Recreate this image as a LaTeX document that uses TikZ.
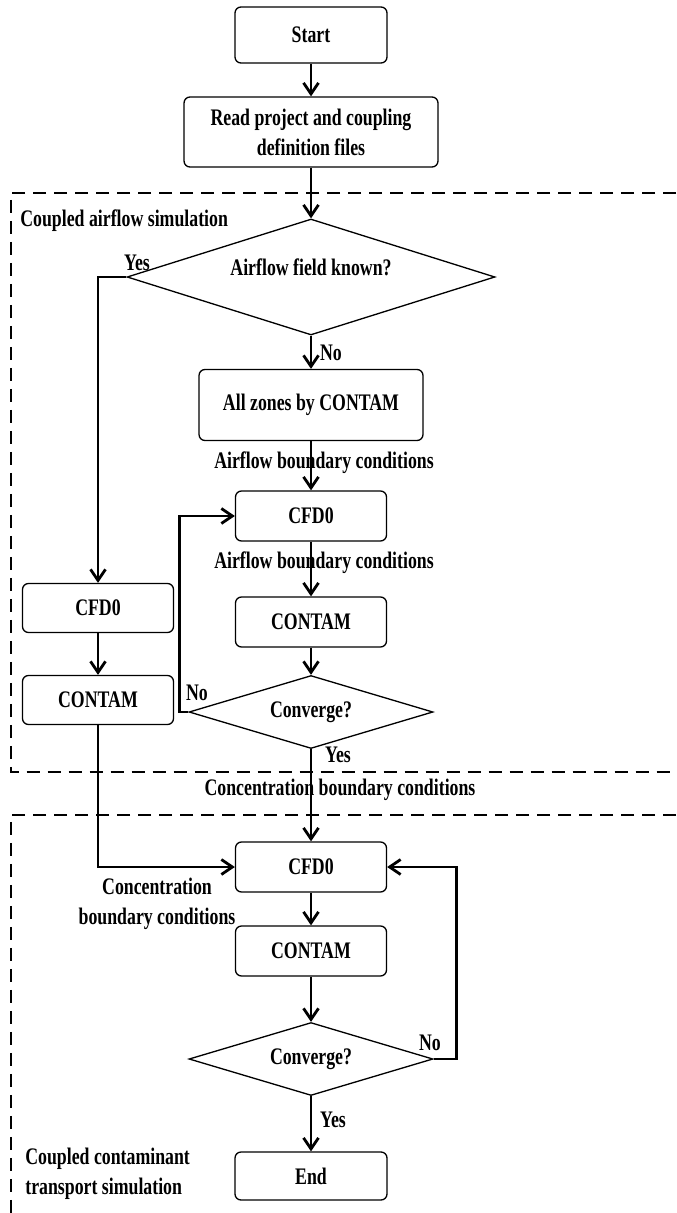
\documentclass[tikz,border=0pt]{standalone}
\usepackage{fontspec}
\setmainfont{Liberation Serif}[FakeStretch=0.75]
\usepackage{tikz}
\usetikzlibrary{shapes.geometric,arrows.meta}
\tikzset{>={Straight Barb[length=2.2mm,width=3mm]}}
\tikzset{
  every node/.style={font=\fontsize{13.5}{17}\selectfont\bfseries},
  block/.style={draw, rounded corners=0.12cm, line width=0.75pt, minimum width=3.02cm,
    minimum height=1cm, align=center, inner sep=2pt},
  decision/.style={draw, diamond, aspect=3.3, line width=0.75pt, inner sep=0pt,
    minimum width=4.88cm, minimum height=1.46cm},
  flow/.style={->, line width=1.6pt},
  group/.style={line width=1.3pt, dash pattern=on 0.26cm off 0.16cm},
}

\begin{document}
\begin{tikzpicture}[x=0.02cm, y=-0.02cm]

		\useasboundingbox (0,0) rectangle (676,1213);

		% The two dashed groups
		\draw [group] (676,193) -| (11,772) -- (676,772);
		\draw [group] (676,815) -| (11,1213);
		\node [anchor=west, inner sep=0pt] (airgroup) at (20,221) {Coupled airflow simulation};
		\node [anchor=west, align=left, inner sep=0pt] (congroup) at (25,1174) {Coupled contaminant\\transport simulation};

		% Main column
		\node [block, minimum width=3.04cm, minimum height=1.12cm] (start) at (311,35) {Start};
		\node [block, minimum width=5.08cm, minimum height=1.4cm] (read) at (311,132) {Read project and coupling\\definition files};
		\node [decision, minimum width=7.36cm, minimum height=2.32cm] (known) at (311,277) {};
		\node (knowntext) at (311,267) {Airflow field known?};
		\node [block, minimum width=4.48cm, minimum height=1.42cm] (allzones) at (311,405) {All zones by CONTAM};
		\node [block] (cfdair) at (311,516) {CFD0};
		\node [block] (contamair) at (311,622) {CONTAM};
		\node [decision] (convair) at (311,712) {Converge?};
		\node [block] (cfdcon) at (311,867) {CFD0};
		\node [block] (contamcon) at (311,951) {CONTAM};
		\node [decision] (convcon) at (311,1059) {Converge?};
		\node [block, minimum width=3.04cm, minimum height=0.96cm] (finish) at (311,1176) {End};

		% Left column, when the airflow field is known
		\node [block, minimum height=0.98cm] (cfdleft) at (98,608) {CFD0};
		\node [block, minimum height=0.98cm] (contamleft) at (98,700) {CONTAM};

		% Labels on the connectors
		\node (yesknown) at (137,263) {Yes};
		\node (noknown) at (331,353) {No};
		\node (bcair) at (324,463) {Airflow boundary conditions};
		\node (bcloop) at (324,563) {Airflow boundary conditions};
		\node (noair) at (197,693) {No};
		\node (yesair) at (338,755) {Yes};
		\node (bccon) at (340,790) {Concentration boundary conditions};
		\node [align=center] (bcleft) at (157,904) {Concentration\\boundary conditions};
		\node (nocon) at (430,1043) {No};
		\node (yescon) at (333,1120) {Yes};

		% Straight connectors
		\foreach \a/\b in {start/read, read/known, known/allzones, allzones/cfdair,
		  cfdair/contamair, contamair/convair, convair/cfdcon, cfdcon/contamcon,
		  contamcon/convcon, convcon/finish, cfdleft/contamleft} {
		  \draw [flow] (\a.south) -- (\b.north);
		}

		% Bent connectors
		\draw [flow] (known.west) -| (cfdleft.north);
		\draw [flow] (contamleft.south) |- (cfdcon.west);
		\draw [flow] (convair.west) -- ++(-9,0) |- (cfdair.west);
		\draw [flow] (convcon.east) -- ++(23,0) |- (cfdcon.east);
	\end{tikzpicture}
\end{document}
